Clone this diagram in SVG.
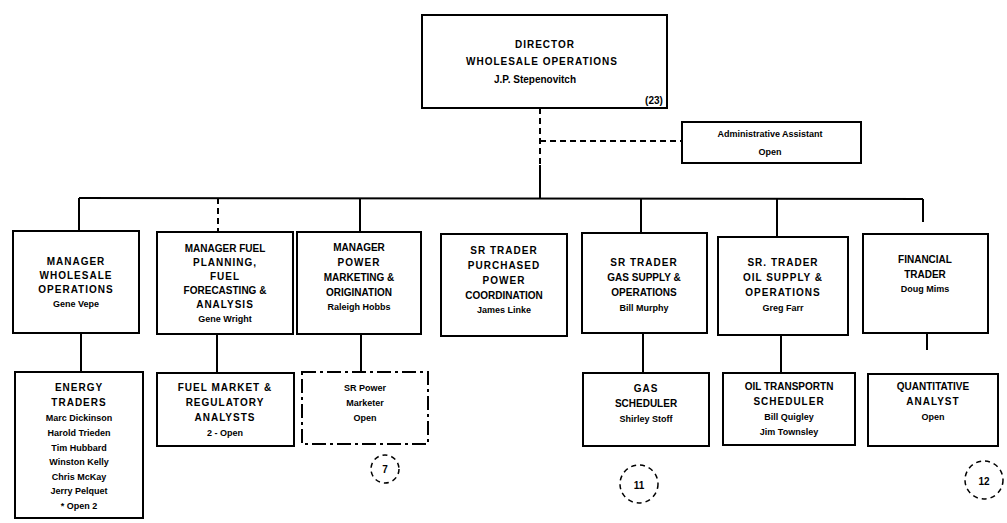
<svg xmlns="http://www.w3.org/2000/svg" width="1007" height="523" viewBox="0 0 1007 523">
<style>
.box{fill:#fff;stroke:#000;stroke-width:2}
.dbox{fill:#fff;stroke:#000;stroke-width:2;stroke-dasharray:14 4 3 4}
.t{font-family:"Liberation Sans",Arial,sans-serif;font-weight:bold;font-size:10px;text-anchor:middle;fill:#000}
.c{letter-spacing:1px}
.n{font-size:9px}
.ln{stroke:#000;stroke-width:2;fill:none}
.dl{stroke:#000;stroke-width:2;fill:none;stroke-dasharray:6 4}
.circ{fill:none;stroke:#000;stroke-width:1.5;stroke-dasharray:5 4}
</style>
<rect width="1007" height="523" fill="#fff"/>
<g id="connectors">
<line class="dl" x1="540" y1="108" x2="540" y2="165"/>
<line class="ln" x1="540" y1="165" x2="540" y2="198"/>
<line class="dl" x1="540" y1="141" x2="682" y2="141"/>
<line class="ln" x1="79" y1="198" x2="923" y2="199"/>
<line class="ln" x1="79" y1="198" x2="79" y2="231"/>
<line class="dl" x1="218" y1="198" x2="218" y2="232"/>
<line class="ln" x1="360" y1="198" x2="360" y2="232"/>
<line class="ln" x1="641" y1="198" x2="641" y2="233"/>
<line class="ln" x1="777" y1="199" x2="777" y2="237"/>
<line class="ln" x1="923" y1="199" x2="923" y2="222"/>
<line class="ln" x1="81" y1="333" x2="81" y2="372"/>
<line class="ln" x1="217" y1="334" x2="217" y2="373"/>
<line class="ln" x1="361" y1="334" x2="361" y2="372"/>
<line class="ln" x1="643" y1="333" x2="643" y2="373"/>
<line class="ln" x1="781" y1="335" x2="781" y2="373"/>
<line class="ln" x1="927" y1="333" x2="927" y2="350"/>
</g>
<g id="director">
<rect class="box" x="422" y="15" width="245" height="93"/>
<text class="t c" x="545" y="48" font-size="11">DIRECTOR</text>
<text class="t c" x="542" y="65" font-size="11" letter-spacing="2">WHOLESALE OPERATIONS</text>
<text class="t" x="535" y="83">J.P. Stepenovitch</text>
<text class="t" x="654" y="104" font-size="11">(23)</text>
</g>
<g id="admin">
<rect class="box" x="682" y="122" width="179" height="41"/>
<text class="t n" x="770" y="137">Administrative Assistant</text>
<text class="t n" x="770" y="155">Open</text>
</g>
<g id="mgr-wholesale">
<rect class="box" x="13" y="231" width="126" height="102"/>
<text class="t c" x="76" y="265">MANAGER</text>
<text class="t c" x="76" y="279">WHOLESALE</text>
<text class="t c" x="76" y="293">OPERATIONS</text>
<text class="t n" x="76" y="307">Gene Vepe</text>
</g>
<g id="mgr-fuel">
<rect class="box" x="157" y="232" width="136" height="102"/>
<text class="t" x="225" y="252">MANAGER FUEL</text>
<text class="t c" x="225" y="266">PLANNING,</text>
<text class="t c" x="225" y="280">FUEL</text>
<text class="t" x="225" y="294">FORECASTING &amp;</text>
<text class="t c" x="225" y="308">ANALYSIS</text>
<text class="t n" x="225" y="322">Gene Wright</text>
</g>
<g id="mgr-power">
<rect class="box" x="297" y="232" width="124" height="102"/>
<text class="t" x="359" y="251">MANAGER</text>
<text class="t c" x="359" y="266">POWER</text>
<text class="t" x="359" y="281">MARKETING &amp;</text>
<text class="t" x="359" y="296">ORIGINATION</text>
<text class="t n" x="359" y="310">Raleigh Hobbs</text>
</g>
<g id="sr-purchased">
<rect class="box" x="441" y="234" width="126" height="102"/>
<text class="t c" x="504" y="254">SR TRADER</text>
<text class="t c" x="504" y="269">PURCHASED</text>
<text class="t c" x="504" y="284">POWER</text>
<text class="t" x="504" y="299">COORDINATION</text>
<text class="t n" x="504" y="313">James Linke</text>
</g>
<g id="sr-gas">
<rect class="box" x="582" y="233" width="125" height="100"/>
<text class="t c" x="644" y="266">SR TRADER</text>
<text class="t" x="644" y="281">GAS SUPPLY &amp;</text>
<text class="t" x="644" y="296">OPERATIONS</text>
<text class="t n" x="644" y="311">Bill Murphy</text>
</g>
<g id="sr-oil">
<rect class="box" x="718" y="237" width="130" height="98"/>
<text class="t c" x="783" y="266">SR. TRADER</text>
<text class="t c" x="783" y="281">OIL SUPPLY &amp;</text>
<text class="t c" x="783" y="296">OPERATIONS</text>
<text class="t n" x="783" y="311">Greg Farr</text>
</g>
<g id="financial">
<rect class="box" x="863" y="234" width="125" height="99"/>
<text class="t" x="925" y="263">FINANCIAL</text>
<text class="t" x="925" y="278">TRADER</text>
<text class="t n" x="925" y="292">Doug Mims</text>
</g>
<g id="energy-traders">
<rect class="box" x="15" y="372" width="128" height="146"/>
<text class="t c" x="79" y="391">ENERGY</text>
<text class="t c" x="79" y="406">TRADERS</text>
<text class="t n" x="79" y="421">Marc Dickinson</text>
<text class="t n" x="79" y="436">Harold Trieden</text>
<text class="t n" x="79" y="451">Tim Hubbard</text>
<text class="t n" x="79" y="465">Winston Kelly</text>
<text class="t n" x="79" y="480">Chris McKay</text>
<text class="t n" x="79" y="494">Jerry Pelquet</text>
<text class="t n" x="79" y="509">* Open 2</text>
</g>
<g id="fuel-analysts">
<rect class="box" x="157" y="373" width="137" height="73"/>
<text class="t c" x="225" y="391">FUEL MARKET &amp;</text>
<text class="t c" x="225" y="406">REGULATORY</text>
<text class="t c" x="225" y="421">ANALYSTS</text>
<text class="t n" x="225" y="436">2 - Open</text>
</g>
<g id="sr-power-marketer">
<rect class="dbox" x="302" y="372" width="126" height="72"/>
<text class="t n" x="365" y="391">SR Power</text>
<text class="t n" x="365" y="406">Marketer</text>
<text class="t n" x="365" y="421">Open</text>
</g>
<g id="gas-scheduler">
<rect class="box" x="583" y="373" width="126" height="73"/>
<text class="t c" x="646" y="392">GAS</text>
<text class="t" x="646" y="407">SCHEDULER</text>
<text class="t n" x="646" y="422">Shirley Stoff</text>
</g>
<g id="oil-scheduler">
<rect class="box" x="723" y="373" width="132" height="72"/>
<text class="t" x="789" y="390">OIL TRANSPORTN</text>
<text class="t c" x="789" y="405">SCHEDULER</text>
<text class="t n" x="789" y="420">Bill Quigley</text>
<text class="t n" x="789" y="435">Jim Townsley</text>
</g>
<g id="quant">
<rect class="box" x="868" y="374" width="130" height="72"/>
<text class="t" x="933" y="390">QUANTITATIVE</text>
<text class="t c" x="933" y="405">ANALYST</text>
<text class="t n" x="933" y="420">Open</text>
</g>
<g id="annotations">
<circle class="circ" cx="385" cy="469" r="14"/>
<text class="t" x="385" y="473" font-size="11">7</text>
<circle class="circ" cx="639" cy="484" r="19"/>
<text class="t" x="639" y="489" font-size="12">11</text>
<circle class="circ" cx="984" cy="480" r="19"/>
<text class="t" x="984" y="485" font-size="12">12</text>
</g>
</svg>
